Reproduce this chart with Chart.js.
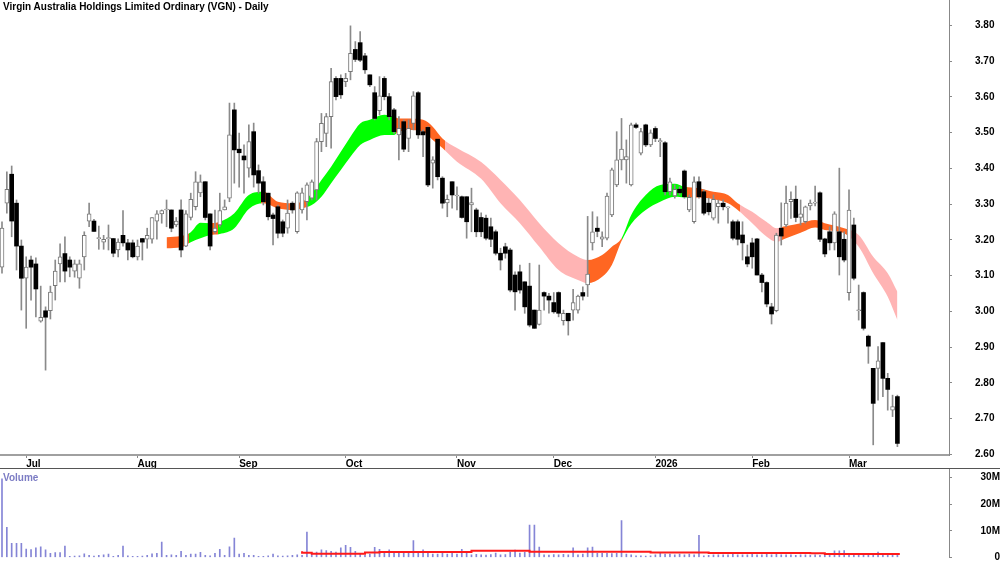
<!DOCTYPE html>
<html>
<head>
<meta charset="utf-8">
<script src="https://cdn.jsdelivr.net/npm/chart.js@4.4.1/dist/chart.umd.min.js"></script>
<style>
html,body{margin:0;padding:0;background:#fff;}
#wrap{position:relative;width:1000px;height:562px;overflow:hidden;font-family:'Liberation Sans',Arial,sans-serif;}
#pc{position:absolute;left:0;top:0;}
#vwrap{position:absolute;left:0;top:468px;width:1000px;height:93px;border-top:1px solid #555;}
#vc{position:absolute;left:0;top:0;}
#title{position:absolute;left:3px;top:1px;font-weight:bold;font-size:10px;line-height:12px;color:#000;white-space:nowrap;}
#vlabel{position:absolute;left:3px;top:472px;font-weight:bold;font-size:10px;line-height:12px;color:#7c7cc4;}
</style>
</head>
<body>
<div id="wrap">
  <canvas id="pc" width="1000" height="469"></canvas>
  <div id="vwrap"><canvas id="vc" width="1000" height="93"></canvas></div>
  <div id="title">Virgin Australia Holdings Limited Ordinary (VGN) - Daily</div>
  <div id="vlabel">Volume</div>
</div>
<script>
// ---- categories / ticks ----
const monthLabels = ['Jul','Aug','Sep','Oct','Nov','Dec','2026','Feb','Mar'];
const monthStart  = [5, 28, 49, 71, 94, 114, 135, 155, 175]; // trading-day index of first session
const priceTicks  = [2.6,2.7,2.8,2.9,3.0,3.1,3.2,3.3,3.4,3.5,3.6,3.7,3.8];
const volTicks    = [0, 10e6, 20e6, 30e6];

// ---- daily OHLC (trading day 0 = 24 Jun 2025) ----
const opens = [3.124,3.303,3.384,3.303,3.183,3.093,3.144,3.133,2.973,3.002,
3.002,3.072,3.133,3.162,3.144,3.113,3.093,3.153,3.253,3.253,
3.204,3.194,3.204,3.204,3.172,3.213,3.192,3.192,3.153,3.204,
3.202,3.202,3.253,3.273,3.284,3.284,3.242,3.284,3.183,3.263,
3.293,3.332,3.363,3.273,3.223,3.242,3.284,3.317,3.564,3.454,
3.435,3.401,3.503,3.394,3.363,3.331,3.270,3.293,3.251,3.233,
3.303,3.223,3.284,3.307,3.317,3.340,3.475,3.498,3.545,3.652,
3.652,3.643,3.671,3.733,3.752,3.715,3.662,3.612,3.562,3.652,
3.601,3.564,3.494,3.531,3.484,3.526,3.612,3.503,3.515,3.415,
3.482,3.373,3.304,3.363,3.323,3.321,3.321,3.298,3.284,3.263,
3.261,3.237,3.223,3.163,3.181,3.172,3.102,3.111,3.083,3.071,
3.004,2.964,3.053,3.043,3.025,3.053,2.974,2.995,3.004,3.004,
3.053,3.074,3.192,3.233,3.202,3.205,3.270,3.354,3.424,3.424,
3.354,3.522,3.443,3.522,3.466,3.512,3.475,3.472,3.335,3.323,
3.342,3.393,3.284,3.251,3.363,3.335,3.303,3.261,3.293,3.303,
3.290,3.251,3.251,3.214,3.153,3.192,3.203,3.102,3.081,3.013,
3.002,3.233,3.242,3.307,3.314,3.263,3.251,3.295,3.303,3.332,
3.203,3.223,3.192,3.223,3.202,3.053,3.242,3.002,3.053,2.931,
2.841,2.841,2.913,2.813,2.724,2.762];
const highs = [3.251,3.391,3.407,3.312,3.200,3.153,3.155,3.150,3.071,3.013,
3.071,3.144,3.189,3.209,3.153,3.144,3.144,3.223,3.303,3.258,
3.239,3.213,3.242,3.204,3.203,3.282,3.202,3.200,3.200,3.204,
3.233,3.263,3.282,3.284,3.312,3.284,3.263,3.312,3.282,3.331,
3.391,3.382,3.363,3.273,3.284,3.331,3.312,3.583,3.583,3.499,
3.466,3.522,3.527,3.410,3.377,3.331,3.275,3.298,3.256,3.312,
3.307,3.335,3.345,3.360,3.368,3.484,3.554,3.554,3.680,3.657,
3.662,3.666,3.799,3.755,3.783,3.722,3.662,3.629,3.657,3.657,
3.610,3.568,3.545,3.536,3.536,3.615,3.615,3.508,3.517,3.433,
3.482,3.377,3.326,3.363,3.349,3.323,3.321,3.345,3.289,3.276,
3.270,3.261,3.228,3.177,3.191,3.177,3.111,3.130,3.083,3.135,
3.004,3.130,3.055,3.051,3.053,3.055,3.004,2.995,3.062,3.046,
3.069,3.266,3.279,3.265,3.223,3.331,3.401,3.503,3.540,3.480,
3.527,3.527,3.512,3.524,3.508,3.517,3.484,3.475,3.373,3.354,
3.349,3.396,3.326,3.377,3.377,3.340,3.317,3.326,3.312,3.312,
3.293,3.256,3.256,3.251,3.186,3.205,3.205,3.107,3.083,3.023,
3.219,3.304,3.351,3.335,3.351,3.312,3.295,3.312,3.351,3.335,
3.205,3.237,3.279,3.401,3.223,3.340,3.261,3.074,3.055,2.934,
2.841,2.902,2.913,2.827,2.766,2.766];
const lows = [3.107,3.275,3.209,3.116,3.004,2.953,3.032,2.985,2.970,2.836,
2.979,3.032,3.083,3.083,3.097,3.096,3.065,3.116,3.237,3.224,
3.174,3.174,3.172,3.153,3.153,3.183,3.144,3.150,3.144,3.144,
3.177,3.191,3.202,3.247,3.237,3.223,3.237,3.153,3.181,3.256,
3.284,3.321,3.256,3.172,3.219,3.237,3.284,3.307,3.359,3.348,
3.331,3.376,3.348,3.331,3.298,3.256,3.186,3.206,3.209,3.219,
3.275,3.219,3.275,3.256,3.312,3.312,3.447,3.461,3.457,3.592,
3.596,3.629,3.648,3.699,3.699,3.666,3.629,3.536,3.550,3.592,
3.536,3.498,3.424,3.447,3.447,3.508,3.484,3.433,3.349,3.345,
3.368,3.289,3.265,3.289,3.284,3.261,3.205,3.223,3.209,3.209,
3.200,3.181,3.158,3.116,3.149,3.055,3.004,3.051,2.995,2.957,
2.953,2.962,3.004,2.995,2.995,2.985,2.962,2.934,2.976,2.995,
3.032,3.042,3.172,3.209,3.181,3.200,3.265,3.349,3.396,3.359,
3.351,3.512,3.438,3.461,3.461,3.475,3.433,3.326,3.326,3.317,
3.326,3.317,3.279,3.247,3.317,3.270,3.270,3.256,3.247,3.284,
3.247,3.200,3.186,3.144,3.125,3.121,3.102,3.055,3.013,2.965,
2.999,3.186,3.237,3.260,3.251,3.242,3.247,3.284,3.295,3.195,
3.153,3.172,3.172,3.102,3.139,3.032,3.088,2.976,2.948,2.855,
2.627,2.752,2.762,2.724,2.706,2.622];
const closes = [3.233,3.342,3.253,3.183,3.093,3.124,3.124,3.063,2.984,2.984,
3.054,3.113,3.153,3.113,3.124,3.133,3.133,3.213,3.273,3.224,
3.204,3.202,3.204,3.163,3.194,3.192,3.172,3.153,3.183,3.194,
3.213,3.263,3.273,3.282,3.284,3.233,3.253,3.172,3.273,3.314,
3.363,3.363,3.263,3.183,3.233,3.282,3.293,3.494,3.452,3.444,
3.424,3.475,3.382,3.359,3.307,3.265,3.260,3.219,3.219,3.275,
3.284,3.332,3.332,3.354,3.363,3.475,3.526,3.545,3.643,3.601,
3.606,3.652,3.722,3.705,3.703,3.676,3.634,3.540,3.603,3.601,
3.545,3.503,3.512,3.454,3.512,3.603,3.494,3.494,3.354,3.424,
3.377,3.303,3.314,3.326,3.323,3.263,3.251,3.305,3.223,3.223,
3.205,3.202,3.163,3.144,3.163,3.060,3.055,3.060,3.013,2.962,
2.953,3.004,3.043,3.032,2.999,2.995,2.995,2.974,3.025,3.043,
3.043,3.105,3.223,3.224,3.209,3.323,3.396,3.424,3.454,3.433,
3.522,3.515,3.503,3.466,3.500,3.484,3.475,3.335,3.363,3.342,
3.332,3.321,3.319,3.363,3.321,3.275,3.279,3.314,3.303,3.293,
3.290,3.205,3.202,3.192,3.133,3.153,3.102,3.081,3.021,2.993,
3.214,3.211,3.303,3.314,3.263,3.273,3.293,3.303,3.303,3.202,
3.161,3.192,3.273,3.153,3.144,3.284,3.093,3.002,2.953,2.903,
2.743,2.862,2.813,2.782,2.734,2.631];

// ---- daily volume, millions of shares ----
const volumes = [29.5,11.3,5.3,5.3,5.3,3.2,3.0,3.6,4.0,2.9,
1.6,1.8,1.8,4.3,0.4,0.5,0.6,1.4,0.8,0.5,
0.8,1.0,1.3,0.4,0.8,4.3,0.6,0.4,0.4,0.5,
0.8,1.4,1.6,5.8,0.8,1.0,0.8,2.3,0.8,1.3,
1.3,1.9,0.8,0.6,1.6,3.1,0.8,4.0,7.3,1.3,
1.6,0.8,0.8,0.4,0.4,0.6,1.3,0.6,0.5,0.6,
0.8,1.0,0.8,9.5,1.3,2.0,2.9,2.6,2.3,2.0,
3.6,4.6,3.8,2.3,1.3,0.8,1.3,3.8,3.1,2.0,
2.9,2.3,2.3,2.3,2.3,6.3,2.0,2.9,1.6,1.3,
1.3,1.6,1.3,1.6,1.3,3.1,1.6,1.0,1.2,1.0,
0.9,1.1,1.7,1.0,1.1,2.0,2.8,1.7,1.9,12.1,
12.1,3.9,1.0,0.9,1.1,1.0,1.2,1.0,3.6,1.0,
1.3,3.6,3.9,1.6,1.6,1.6,1.5,1.6,13.8,1.3,
1.0,0.6,0.6,0.5,0.6,1.0,1.6,1.3,1.3,1.0,
1.3,1.0,1.3,1.0,8.3,0.6,0.8,1.0,1.0,1.0,
1.0,1.3,1.0,1.0,1.0,1.3,1.0,1.0,1.3,1.0,
1.3,1.0,1.0,1.0,0.8,1.0,1.0,0.8,1.0,0.8,
1.0,1.0,2.5,2.5,2.6,1.3,1.0,1.0,1.0,1.0,
1.3,2.0,1.3,1.0,1.0,1.0];

// ---- trend band (upper / lower average) read at sampled sessions ----
const bandIdx = [34,37,39,41,43,45,48,51,54,57,60,62,64,66,68,70,72,74,76,79,
81,82,84,87,89,91,94,99,103,107,111,115,119,121,124,126,128,130,133,136,
139,141,144,147,150,152,155,158,160,162,165,168,170,174,177,180,183,185];
const bandHi = [3.208,3.211,3.222,3.248,3.247,3.251,3.275,3.326,3.335,3.307,3.303,3.307,3.331,3.368,3.405,3.447,3.489,3.526,3.536,3.550,
3.545,3.540,3.540,3.536,3.517,3.484,3.457,3.418,3.368,3.312,3.247,3.191,3.153,3.144,3.158,3.181,3.205,3.270,3.326,3.354,
3.357,3.349,3.345,3.335,3.326,3.303,3.279,3.250,3.233,3.239,3.247,3.256,3.247,3.233,3.214,3.153,3.107,3.055];
const bandLo = [3.177,3.180,3.194,3.205,3.214,3.217,3.233,3.287,3.303,3.289,3.284,3.289,3.298,3.321,3.359,3.396,3.433,3.466,3.480,3.494,
3.494,3.503,3.508,3.503,3.480,3.457,3.419,3.371,3.303,3.247,3.181,3.116,3.088,3.079,3.097,3.130,3.197,3.245,3.284,3.307,
3.321,3.319,3.319,3.314,3.303,3.284,3.247,3.209,3.195,3.205,3.220,3.235,3.228,3.219,3.181,3.107,3.041,2.976];
const bandSegStart = [34,38.6,43.2,44.6,53.6,63,81.5,91.5,121,128,141.6,152.5,161,174.5];
const bandSegState = ['flat','up','flat','up','flat','up','flat','down','flat','up','flat','down','flat','down'];
const bandEnd = 185.5;

// ---- volume average line (millions) ----
const volMAIdx = [62,64,75,78,97,109,134,146,167,170,179,185.5];
const volMA    = [2.3,1.8,1.4,1.9,2.1,2.5,2.2,1.9,1.7,1.6,1.3,1.3];

// ---- presentation ----
const FONT = "'Liberation Sans', Arial, sans-serif";
const stateColors = {up:'#00ff00', flat:'#ff6622', down:'#ffb4b4'};
const X_MIN = -0.413, X_MAX = 195.66;
const Y_MIN = 2.5986, Y_MAX = 3.8713;
const V_MAX = 33.15e6;

function bandFill(ctx){
  const chart = ctx.chart, xs = chart.scales && chart.scales.x;
  if (!chart.chartArea || !xs) return 'rgba(0,0,0,0)';
  const x0 = xs.left, w = xs.right - xs.left;
  const g = chart.ctx.createLinearGradient(x0, 0, xs.right, 0);
  const clamp = v => Math.min(1, Math.max(0, v));
  for (let k = 0; k < bandSegStart.length; k++) {
    const a = clamp((xs.getPixelForValue(bandSegStart[k]) - x0) / w);
    const endV = k + 1 < bandSegStart.length ? bandSegStart[k+1] : bandEnd;
    const b = clamp((xs.getPixelForValue(endV) - x0) / w);
    const c = stateColors[bandSegState[k]];
    g.addColorStop(a, c); g.addColorStop(b, c);
  }
  return g;
}

const isUp = i => closes[i] >= opens[i];

new Chart(document.getElementById('pc'), {
  type: 'bar',
  data: {
    datasets: [
      { type:'line', data: bandIdx.map((x,k)=>({x, y: bandHi[k]})), borderColor:'rgba(0,0,0,0)', borderWidth:0,
        pointRadius:0, fill:'+1', backgroundColor: bandFill, cubicInterpolationMode:'monotone', order:3 },
      { type:'line', data: bandIdx.map((x,k)=>({x, y: bandLo[k]})), borderColor:'rgba(0,0,0,0)', borderWidth:0,
        pointRadius:0, fill:false, cubicInterpolationMode:'monotone', order:3 },
      { data: highs.map((h,i)=>({x:i, y:[lows[i], h]})), backgroundColor:'#8a8a8a', borderWidth:0,
        barThickness:1, grouped:false, order:2 },
      { data: opens.map((o,i)=>({x:i, y:[o, closes[i]]})),
        backgroundColor: c => isUp(c.dataIndex) ? '#ffffff' : '#000000',
        borderColor: c => isUp(c.dataIndex) ? '#777777' : '#000000',
        borderWidth: c => isUp(c.dataIndex) ? 1 : 0,
        borderSkipped:false, barThickness:4, minBarLength:1, grouped:false, order:1 }
    ]
  },
  options: {
    responsive:false, animation:false, devicePixelRatio:1,
    layout:{padding:0},
    plugins:{legend:{display:false}, tooltip:{enabled:false}},
    scales:{
      x:{ type:'linear', min:X_MIN, max:X_MAX, offset:false, bounds:'data',
          grid:{display:true, drawOnChartArea:false, tickLength:3, color:'#888', offset:false},
          border:{display:true, color:'#a0a0a0', width:2},
          ticks:{autoSkip:false, maxRotation:0, minRotation:0, align:'start', padding:0, color:'#000',
                 font:{family:FONT, size:10, weight:'bold'},
                 callback:(v, idx)=> monthLabels[idx] },
          afterBuildTicks: s => { s.ticks = monthStart.map(v=>({value:v})); },
          afterFit: s => { s.height = 14; s.paddingLeft = 0; s.paddingRight = 0; } },
      y:{ type:'linear', position:'right', min:Y_MIN, max:Y_MAX, bounds:'data',
          grid:{drawOnChartArea:false, tickLength:3, color:'#888'},
          border:{display:true, color:'#888', width:1},
          ticks:{padding:23, color:'#000', font:{family:FONT, size:10, weight:'bold'},
                 callback: v => Number(v).toFixed(2) },
          afterBuildTicks: s => { s.ticks = priceTicks.map(v=>({value:v})); },
          afterFit: s => { s.width = 51; s.paddingTop = 0; s.paddingBottom = 0; } }
    }
  }
});

new Chart(document.getElementById('vc'), {
  type:'bar',
  data:{
    datasets:[
      { type:'line', data: volMAIdx.map((x,k)=>({x, y: volMA[k]*1e6})), borderColor:'#ff1a1a', borderWidth:2,
        pointRadius:0, stepped:'after', fill:false, order:0 },
      { data: volumes.map((v,i)=>({x:i, y:v*1e6})), backgroundColor:'#8585d6', borderWidth:0,
        barThickness:1, grouped:false, order:1 }
    ]
  },
  options:{
    responsive:false, animation:false, devicePixelRatio:1,
    layout:{padding:{top:0, bottom:4.5, left:0, right:0}},
    plugins:{legend:{display:false}, tooltip:{enabled:false}},
    scales:{
      x:{ type:'linear', min:X_MIN, max:X_MAX, offset:false, display:false },
      y:{ type:'linear', position:'right', min:0, max:V_MAX, bounds:'data',
          grid:{drawOnChartArea:false, tickLength:3, color:'#888'},
          border:{display:true, color:'#888', width:1},
          ticks:{padding:18, crossAlign:'far', color:'#000', font:{family:FONT, size:10, weight:'bold'},
                 callback: v => v === 0 ? '0' : Math.round(v/1e6) + 'M' },
          afterBuildTicks: s => { s.ticks = volTicks.map(v=>({value:v})); },
          afterFit: s => { s.width = 51; s.paddingTop = 0; s.paddingBottom = 0; } }
    }
  }
});
</script>
</body>
</html>
